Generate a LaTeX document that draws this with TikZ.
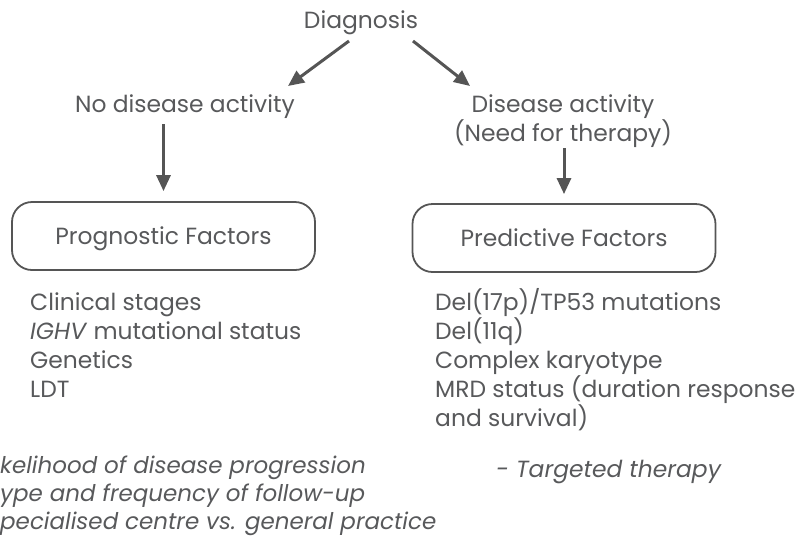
\documentclass[tikz,border=0pt]{standalone}
\usepackage{fontspec}
\setmainfont{Poppins}
\usetikzlibrary{positioning,arrows.meta}
\definecolor{txtgray}{HTML}{58595B}
\definecolor{arrgray}{HTML}{555555}

\begin{document}
\begin{tikzpicture}[
			x=1pt,y=1pt,
			every node/.style={text=txtgray,font=\fontsize{23.4}{29}\selectfont},
			label/.style={align=center,inner sep=0pt},
			box/.style={
				draw=arrgray,
				line width=1.8pt,
				rounded corners=20pt,
				text depth=0pt,
				minimum width=303pt,
				minimum height=68pt
			},
			list/.style={align=left,anchor=north west,inner sep=0pt},
			arrow/.style={-{Triangle[length=16pt,width=14pt]},line width=3pt,draw=arrgray}
			]
			\useasboundingbox (0,0) rectangle (803,-542);
			
			\node[label] (diag) at (361,-23) {Diagnosis};
			
			\node[label] (nodis) at (185,-107) {No disease activity};
			
			\node[label] (dis) at (563,-121) {Disease activity\\(Need for therapy)};
			
			\draw[arrow] ([shift={(-12,-18)}]diag.center) -- ([shift={(103,21)}]nodis.center);
			\draw[arrow] ([shift={(52,-18)}]diag.center) -- ([shift={(-93,35)}]dis.center);
			
			\node[box] (prog) at (163.5,-236) {Prognostic Factors};
			
			\node[box] (pred) at (564,-238) {Predictive Factors};
			
			\draw[arrow] (prog.north |- nodis.center) ++(0,-17) -- ([yshift=10pt]prog.north);
			\draw[arrow] (pred.north |- dis.center) ++(0,-27) -- ([yshift=9pt]pred.north);
			
			\node[list] (progl) at (30,-292)
			{Clinical stages\\ \textit{IGHV} mutational status\\ Genetics\\ LDT};
			
			\node[list] (predl) at (435,-288.5)
			{Del(17p)/TP53 mutations\\ Del(11q)\\ Complex karyotype\\ MRD status (duration response\\ and survival)};
			
			\node[anchor=base west,inner sep=0pt,font=\fontsize{23.4}{28}\selectfont\itshape] (targ) at (496,-477) {- Targeted therapy};
			
			\node[list,font=\fontsize{23}{28}\selectfont\itshape] (course) at (0,-456)
			{kelihood of disease progression\\ ype and frequency of follow-up\\ pecialised centre vs. general practice};
			
		\end{tikzpicture}
\end{document}
